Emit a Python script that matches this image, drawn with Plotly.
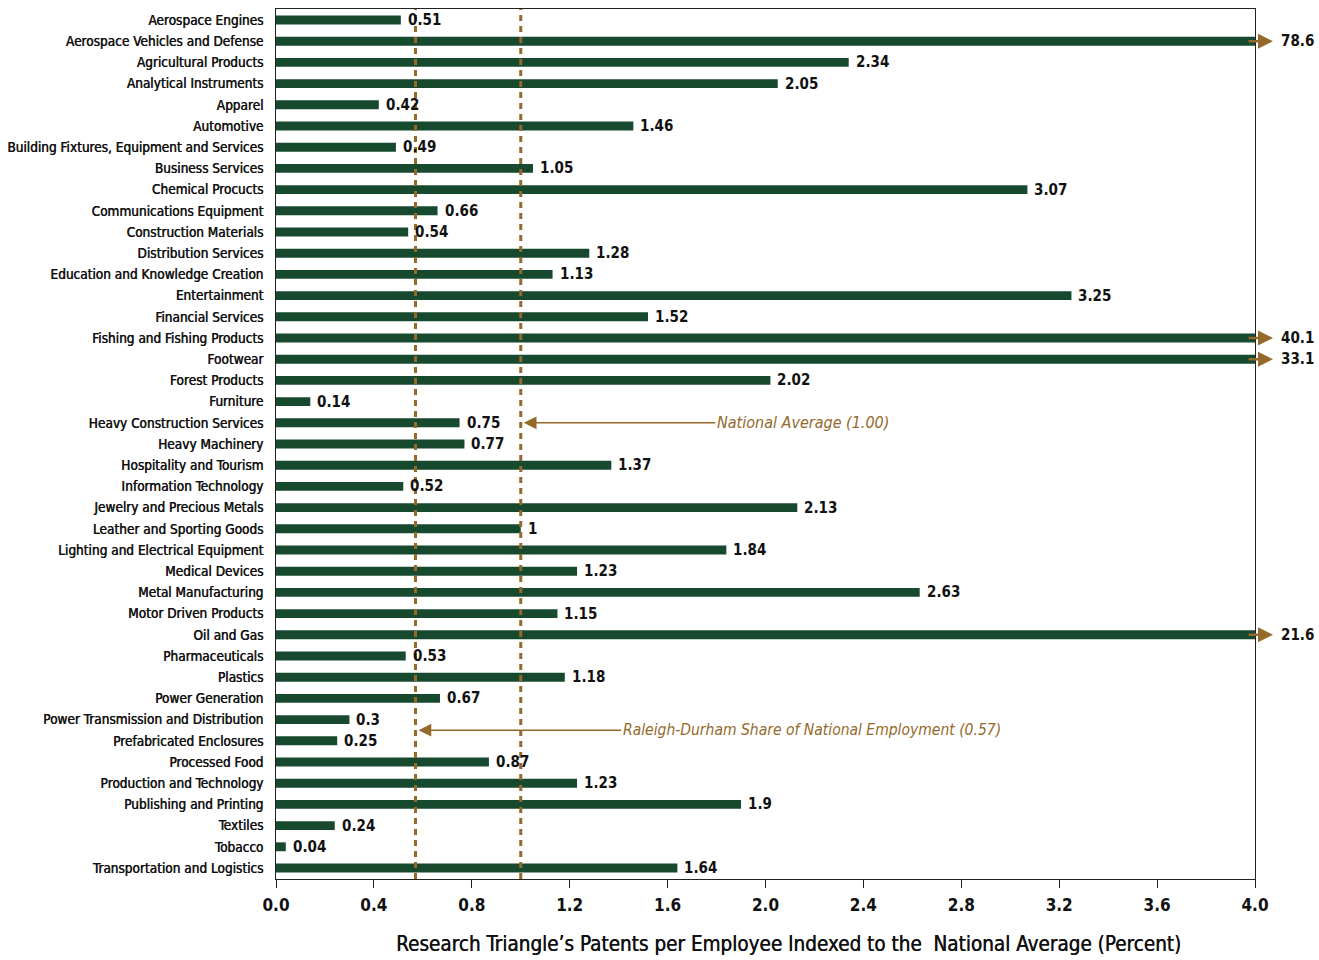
import plotly.graph_objects as go

# Industry clusters (top to bottom) and their patent intensity index
clusters = [
    "Aerospace Engines", "Aerospace Vehicles and Defense", "Agricultural Products",
    "Analytical Instruments", "Apparel", "Automotive",
    "Building Fixtures, Equipment and Services", "Business Services", "Chemical Procucts",
    "Communications Equipment", "Construction Materials", "Distribution Services",
    "Education and Knowledge Creation", "Entertainment", "Financial Services",
    "Fishing and Fishing Products", "Footwear", "Forest Products", "Furniture",
    "Heavy Construction Services", "Heavy Machinery", "Hospitality and Tourism",
    "Information Technology", "Jewelry and Precious Metals", "Leather and Sporting Goods",
    "Lighting and Electrical Equipment", "Medical Devices", "Metal Manufacturing",
    "Motor Driven Products", "Oil and Gas", "Pharmaceuticals", "Plastics",
    "Power Generation", "Power Transmission and Distribution", "Prefabricated Enclosures",
    "Processed Food", "Production and Technology", "Publishing and Printing", "Textiles",
    "Tobacco", "Transportation and Logistics",
]
index_values = [
    0.51, 78.6, 2.34, 2.05, 0.42, 1.46, 0.49, 1.05, 3.07, 0.66, 0.54, 1.28, 1.13, 3.25,
    1.52, 40.1, 33.1, 2.02, 0.14, 0.75, 0.77, 1.37, 0.52, 2.13, 1.0, 1.84, 1.23, 2.63,
    1.15, 21.6, 0.53, 1.18, 0.67, 0.3, 0.25, 0.87, 1.23, 1.9, 0.24, 0.04, 1.64,
]
x_ticks = [0.0, 0.4, 0.8, 1.2, 1.6, 2.0, 2.4, 2.8, 3.2, 3.6, 4.0]

national_average = 1.00
employment_share = 0.57
x_max = 4.0

GREEN = "#17492f"
BROWN = "#94692a"
FONT = "DejaVu Sans Condensed, sans-serif"


def fmt(v):
    return f"{v:g}"


fig = go.Figure()
fig.add_trace(go.Bar(
    x=index_values,
    y=clusters,
    orientation="h",
    marker=dict(color=GREEN, line=dict(width=0)),
    hoverinfo="x+y",
))

annotations = []
for name, v in zip(clusters, index_values):
    if v <= x_max:
        annotations.append(dict(
            x=v, y=name, xref="x", yref="y", text=f"<b>{fmt(v)}</b>",
            showarrow=False, xanchor="left", xshift=5,
            font=dict(family=FONT, size=15, color="#111111"),
        ))
    else:
        # bar runs off the scale: arrow out of the frame plus the value
        annotations.append(dict(
            x=1, y=name, xref="paper", yref="y", text="",
            showarrow=True, arrowhead=2, arrowsize=1.2, arrowwidth=2.5,
            arrowcolor=BROWN, ax=-26, ay=0, xshift=18,
        ))
        annotations.append(dict(
            x=1, y=name, xref="paper", yref="y", text=f"<b>{fmt(v)}</b>",
            showarrow=False, xanchor="left", xshift=24,
            font=dict(family=FONT, size=15, color="#111111"),
        ))

# callouts for the two reference lines
annotations.append(dict(
    x=national_average, y="Heavy Construction Services", xref="x", yref="y",
    ax=1.795, ay="Heavy Construction Services", axref="x", ayref="y",
    text="<i>National Average (1.00)</i>", xanchor="left",
    showarrow=True, arrowhead=2, arrowsize=1.7, arrowwidth=1.5, arrowcolor=BROWN,
    standoff=3, font=dict(family=FONT, size=16, color=BROWN),
))
annotations.append(dict(
    x=employment_share, y=33.5, xref="x", yref="y",
    ax=1.41, ay=33.5, axref="x", ayref="y",
    text="<i>Raleigh-Durham Share of National Employment (0.57)</i>", xanchor="left",
    showarrow=True, arrowhead=2, arrowsize=1.7, arrowwidth=1.5, arrowcolor=BROWN,
    standoff=3, font=dict(family=FONT, size=15.5, color=BROWN),
))
annotations.append(dict(
    x=0.5, y=0, xref="paper", yref="paper", yanchor="top", yshift=-51, xshift=23,
    text="Research Triangle\u2019s Patents per Employee Indexed to the &nbsp;National Average (Percent)",
    showarrow=False,
    font=dict(family=FONT, size=20.5, color="#111111", shadow="0.4px 0 0 #111111"),
))

shapes = []
for v in (employment_share, national_average):
    shapes.append(dict(
        type="line", xref="x", yref="paper", x0=v, x1=v, y0=0, y1=1,
        line=dict(color=BROWN, width=3, dash="6px,5px"), layer="above",
    ))

fig.update_layout(
    width=1319, height=960,
    margin=dict(l=276, r=64, t=9, b=81),
    paper_bgcolor="white", plot_bgcolor="white",
    bargap=0.58,
    showlegend=False,
    annotations=annotations,
    shapes=shapes,
    font=dict(family=FONT, color="#111111"),
    xaxis=dict(
        range=[0, x_max], tickvals=x_ticks, ticktext=[f"<b>{t:.1f}</b>" for t in x_ticks],
        ticks="outside", ticklen=8, tickcolor="#222222", ticklabelstandoff=3,
        showline=True, linecolor="#222222", linewidth=1, mirror=True,
        showgrid=False, zeroline=False, automargin=False,
        tickfont=dict(family=FONT, size=17, color="#111111"),
    ),
    yaxis=dict(
        categoryorder="array", categoryarray=clusters, autorange="reversed",
        showline=True, linecolor="#222222", linewidth=1, mirror=True,
        showgrid=False, zeroline=False, ticks="", ticklabelstandoff=9, automargin=False,
        tickfont=dict(family=FONT, size=13.5, color="#111111",
                      shadow="0.5px 0 0 #111111"),
    ),
)

fig.write_html("out.html")
